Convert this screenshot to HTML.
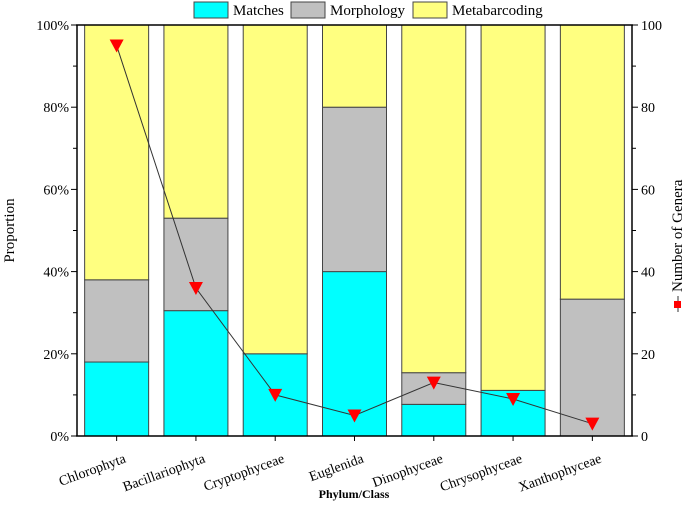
<!DOCTYPE html>
<html><head><meta charset="utf-8"><style>
body{margin:0;background:#fff}
svg text{font-family:"Liberation Serif",serif;fill:#000}
</style></head><body>
<svg id="c" width="685" height="503" xmlns="http://www.w3.org/2000/svg"></svg>
<script>
const categories=["Chlorophyta","Bacillariophyta","Cryptophyceae","Euglenida","Dinophyceae","Chrysophyceae","Xanthophyceae"];
const matches=[18,30.5,20,40,7.7,11.1,0];
const morphology=[20,22.5,0,40,7.7,0,33.3];
const metabarcoding=[62,47,80,20,84.6,88.9,66.7];
const genera=[95,36,10,5,13,9,3];
const leftTicks=["0%","20%","40%","60%","80%","100%"];
const rightTicks=["0","20","40","60","80","100"];
const NS="http://www.w3.org/2000/svg";
const svg=document.getElementById('c');
const L=77,R=632,T=25,B=436;
const band=(R-L)/categories.length, bw=64;
const x=i=>L+band*(i+0.5);
const y=v=>B-(B-T)*v/100;
function mk(t,a,p){const e=document.createElementNS(NS,t);for(const k in a)e.setAttribute(k,a[k]);(p||svg).appendChild(e);return e;}
const cols=["#00ffff","#c0c0c0","#ffff80"];
const series=[matches,morphology,metabarcoding];
categories.forEach((c,i)=>{
  let acc=0;
  series.forEach((s,j)=>{
    const v=s[i]; if(v<=0)return;
    const r=mk('rect',{x:x(i)-bw/2,y:y(acc+v),width:bw,height:y(acc)-y(acc+v),fill:cols[j],stroke:'#444','stroke-width':1});
    
    
    acc+=v;
  });
  const t=mk('text',{x:x(i)+10,y:B+26,'font-size':14,'text-anchor':'end',transform:`rotate(-20 ${x(i)+10} ${B+26})`});
  t.textContent=c;
  
  
  mk('line',{x1:x(i),x2:x(i),y1:B,y2:B+5,stroke:'#000'});
});
mk('line',{x1:L,x2:L,y1:T,y2:B,stroke:'#000','stroke-width':1.5});
mk('line',{x1:R,x2:R,y1:T,y2:B,stroke:'#000','stroke-width':1.5});
mk('line',{x1:L-1,x2:R+1,y1:B,y2:B,stroke:'#000','stroke-width':1.5});
mk('line',{x1:L-1,x2:R+1,y1:T,y2:T,stroke:'#000','stroke-width':1.5});
leftTicks.forEach((lab,k)=>{
  const v=k*20;
  mk('line',{x1:L-6,x2:L,y1:y(v),y2:y(v),stroke:'#000'});
  mk('line',{x1:R,x2:R+6,y1:y(v),y2:y(v),stroke:'#000'});
  if(k<5){mk('line',{x1:L-4,x2:L,y1:y(v+10),y2:y(v+10),stroke:'#000'});mk('line',{x1:R,x2:R+4,y1:y(v+10),y2:y(v+10),stroke:'#000'});}
  const t=mk('text',{x:L-8,y:y(v)+5,'font-size':14,'text-anchor':'end'});t.textContent=lab;
  
  
  const t2=mk('text',{x:R+9,y:y(v)+5,'font-size':14});t2.textContent=rightTicks[k];
  
  
});
const pts=genera.map((g,i)=>x(i)+','+y(g)).join(' ');
const pl=mk('polyline',{points:pts,fill:'none',stroke:'#333','stroke-width':1});


genera.forEach((g,i)=>{
  const cx=x(i),cy=y(g);
  const m=mk('polygon',{points:`${cx-7},${cy-6} ${cx+7},${cy-6} ${cx},${cy+7}`,fill:'#ff0000'});
  
  
});
let t=mk('text',{x:14,y:(T+B)/2,'font-size':15,'text-anchor':'middle',transform:`rotate(-90 14 ${(T+B)/2})`});t.textContent='Proportion';

t=mk('text',{x:354,y:498,'font-size':12,'font-weight':'bold','text-anchor':'middle'});t.textContent='Phylum/Class';

const rg=mk('g',{transform:'translate(682,230) rotate(-90)'});

mk('line',{x1:-82,x2:-66,y1:-4,y2:-4,stroke:'#333'},rg);
mk('rect',{x:-78,y:-8,width:7,height:7,fill:'#ff0000'},rg);
t=mk('text',{x:-62,y:0,'font-size':15},rg);t.textContent='Number of Genera';
const leg=[["Matches",194],["Morphology",291],["Metabarcoding",413]];
leg.forEach(([n,lx],j)=>{
  const g=mk('g',{});
  
  
  mk('rect',{x:lx,y:2,width:34,height:16,fill:cols[j],stroke:'#444'},g);
  const tt=mk('text',{x:lx+39,y:15,'font-size':15},g);tt.textContent=n;
});
</script>
</body></html>
